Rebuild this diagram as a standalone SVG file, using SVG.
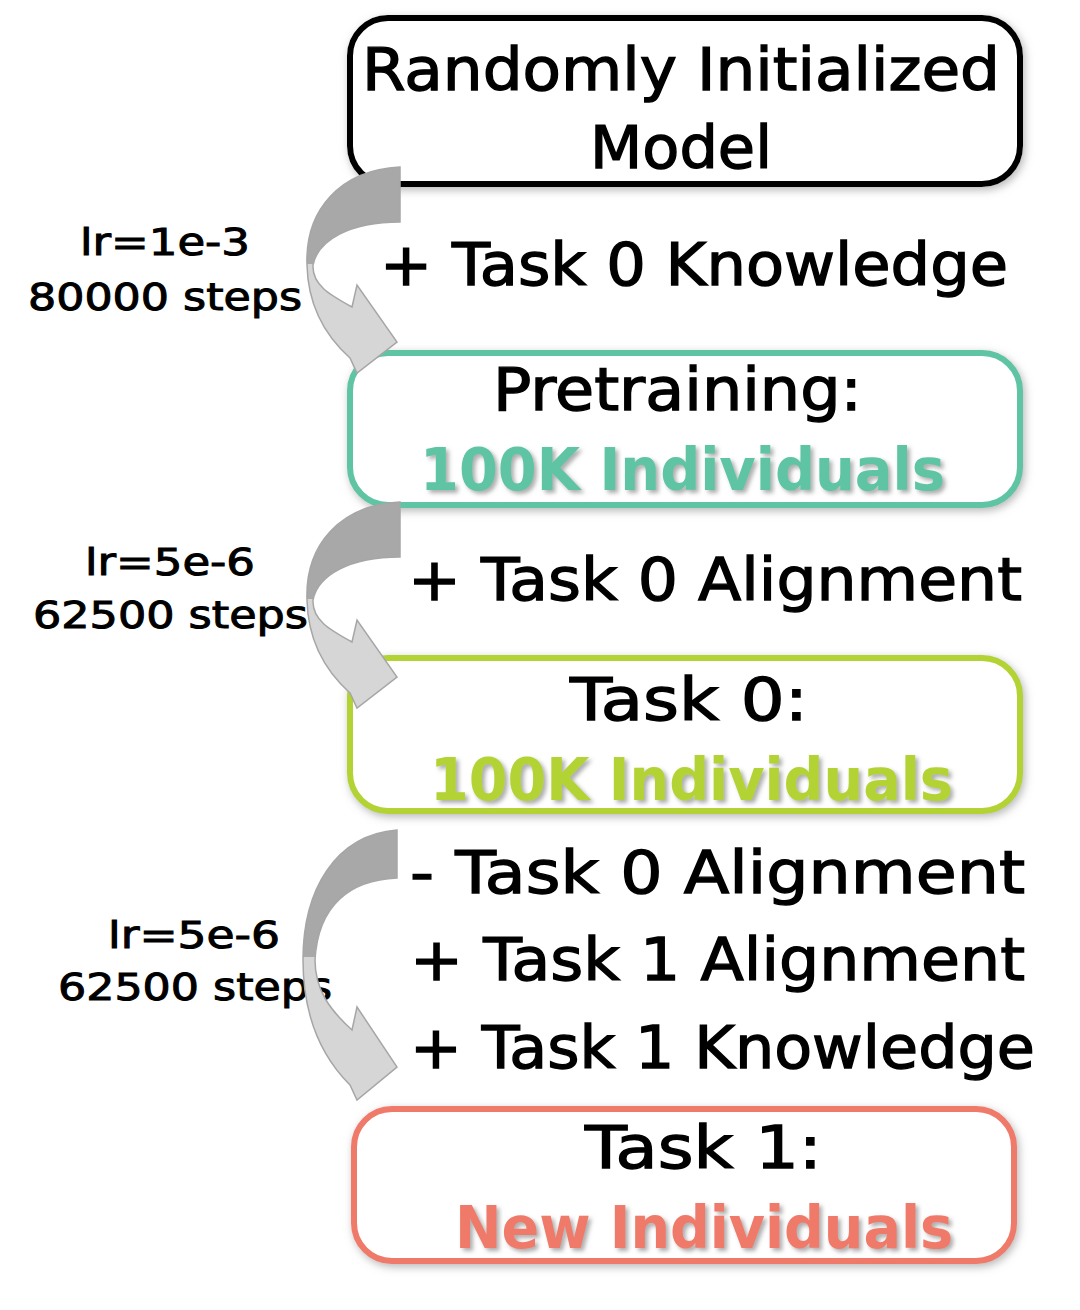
<svg xmlns="http://www.w3.org/2000/svg" width="1080" height="1310" viewBox="0 0 1080 1310">
<defs>
<style>
.t{font-family:"DejaVu Sans","Liberation Sans",sans-serif;fill:#000;stroke:#000;stroke-width:1.3;}
.big{font-size:58px;}
.lab{font-size:38px;stroke-width:1;}
.col{stroke:none;font-weight:bold;}
.box{fill:#fff;stroke-width:6;}
.arr{stroke:#a6a6a6;stroke-width:1.5;}
</style>
<linearGradient id="ag" x1="0" y1="0" x2="0" y2="1">
<stop offset="0" stop-color="#a8a8a8"/>
<stop offset="0.47" stop-color="#a8a8a8"/>
<stop offset="0.47" stop-color="#d6d6d6"/>
<stop offset="1" stop-color="#d6d6d6"/>
</linearGradient>
<filter id="glow" x="-10%" y="-20%" width="120%" height="140%">
<feGaussianBlur in="SourceAlpha" stdDeviation="4" result="b"/>
<feOffset dx="2" dy="3" in="b" result="o"/>
<feFlood flood-color="#888" flood-opacity="0.6"/>
<feComposite in2="o" operator="in" result="s"/>
<feMerge><feMergeNode in="s"/><feMergeNode in="SourceGraphic"/></feMerge>
</filter>
<filter id="ts" x="-5%" y="-20%" width="110%" height="140%">
<feGaussianBlur in="SourceAlpha" stdDeviation="2" result="b"/>
<feOffset dx="3" dy="3" in="b" result="o"/>
<feFlood flood-color="#777" flood-opacity="0.6"/>
<feComposite in2="o" operator="in" result="s"/>
<feMerge><feMergeNode in="s"/><feMergeNode in="SourceGraphic"/></feMerge>
</filter>
</defs>
<rect width="1080" height="1310" fill="#fff"/>

<g id="lbl1">
<text class="t lab" x="80" y="255" textLength="170" lengthAdjust="spacingAndGlyphs">lr=1e-3</text>
<text class="t lab" x="28" y="310" textLength="274" lengthAdjust="spacingAndGlyphs">80000 steps</text>
</g>
<g id="lbl2">
<text class="t lab" x="85" y="575" textLength="170" lengthAdjust="spacingAndGlyphs">lr=5e-6</text>
<text class="t lab" x="33" y="628" textLength="275" lengthAdjust="spacingAndGlyphs">62500 steps</text>
</g>
<g id="lbl3">
<text class="t lab" x="108" y="948" textLength="172" lengthAdjust="spacingAndGlyphs">lr=5e-6</text>
<text class="t lab" x="58" y="1000" textLength="274" lengthAdjust="spacingAndGlyphs">62500 steps</text>
</g>

<g id="model">
<rect class="box" x="350" y="18" width="670" height="166" rx="38" stroke="#000" filter="url(#glow)"/>
<text class="t big" x="362" y="90" textLength="638" lengthAdjust="spacingAndGlyphs">Randomly Initialized</text>
<text class="t big" x="590" y="168" textLength="182" lengthAdjust="spacingAndGlyphs">Model</text>
</g>

<g id="step1">
<text class="t big" x="380" y="285" textLength="628" lengthAdjust="spacingAndGlyphs">+ Task 0 Knowledge</text>
</g>

<g id="pretraining">
<rect class="box" x="350" y="353" width="670" height="152" rx="38" stroke="#5ec4a4" filter="url(#glow)"/>
<text class="t big" x="493" y="410" textLength="369" lengthAdjust="spacingAndGlyphs">Pretraining:</text>
<text class="t big col" x="420" y="490" textLength="525" lengthAdjust="spacingAndGlyphs" style="fill:#5ec4a4" filter="url(#ts)">100K Individuals</text>
</g>

<g id="step2">
<text class="t big" x="408" y="600" textLength="614" lengthAdjust="spacingAndGlyphs">+ Task 0 Alignment</text>
</g>

<g id="task0">
<rect class="box" x="350" y="658" width="670" height="153" rx="38" stroke="#b3d334" filter="url(#glow)"/>
<text class="t big" x="570" y="720" textLength="238" lengthAdjust="spacingAndGlyphs">Task 0:</text>
<text class="t big col" x="430" y="800" textLength="523" lengthAdjust="spacingAndGlyphs" style="fill:#b3d334" filter="url(#ts)">100K Individuals</text>
</g>

<g id="step3">
<text class="t big" x="410" y="893" textLength="615" lengthAdjust="spacingAndGlyphs">- Task 0 Alignment</text>
<text class="t big" x="410" y="980" textLength="615" lengthAdjust="spacingAndGlyphs">+ Task 1 Alignment</text>
<text class="t big" x="410" y="1068" textLength="625" lengthAdjust="spacingAndGlyphs">+ Task 1 Knowledge</text>
</g>

<g id="task1">
<rect class="box" x="354" y="1109" width="660" height="152" rx="38" stroke="#f07a6a" filter="url(#glow)"/>
<text class="t big" x="585" y="1168" textLength="237" lengthAdjust="spacingAndGlyphs">Task 1:</text>
<text class="t big col" x="455" y="1248" textLength="498" lengthAdjust="spacingAndGlyphs" style="fill:#f07a6a" filter="url(#ts)">New Individuals</text>
</g>

<g id="connectors">
<path class="arr" fill="url(#ag)" d="M400,167 C340,170 305,210 307,265 C308,310 330,340 350,358 L357,373 L397,342 L357,285 L352,307 C330,295 312,285 313,265 C318,240 350,222 400,222 Z"/>
<path class="arr" fill="url(#ag)" d="M400,502 C340,505 305,545 307,600 C308,645 330,675 350,693 L357,708 L397,677 L357,620 L352,642 C330,630 312,620 313,600 C318,575 350,557 400,557 Z"/>
<path class="arr" fill="url(#ag)" d="M397,830 C335,835 303,890 303,960 C303,1020 325,1060 350,1085 L357,1100 L397,1067 L357,1007 L352,1030 C330,1010 315,990 315,960 C318,905 350,880 397,878 Z"/>
</g>
</svg>
